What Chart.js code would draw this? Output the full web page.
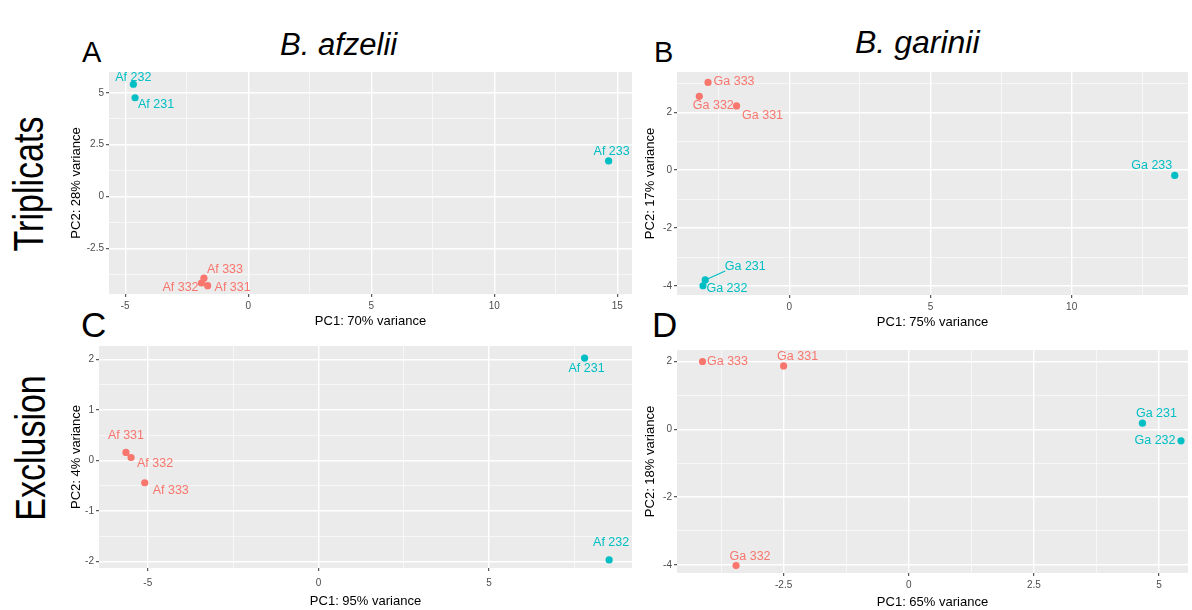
<!DOCTYPE html>
<html>
<head>
<meta charset="utf-8">
<script src="https://cdn.jsdelivr.net/npm/chart.js@4.4.1/dist/chart.umd.min.js"></script>
<style>
  body { margin: 0; background: #fff; width: 1192px; height: 610px; overflow: hidden; position: relative;
         font-family: 'Liberation Sans', Arial, sans-serif; }
  canvas { position: absolute; }
  .txt { position: absolute; color: #000; line-height: 1; white-space: nowrap; }
  .side { position: absolute; width: 240px; height: 42px; font-size: 42px; line-height: 1; text-align: center;
          transform: rotate(-90deg) scaleX(0.81); }
</style>
</head>
<body>
<div class="txt" style="left:82px;top:38px;font-size:29px">A</div>
<div class="txt" style="left:280px;top:29px;font-size:31px;font-style:italic">B. afzelii</div>
<div class="txt" style="left:654px;top:38px;font-size:29px">B</div>
<div class="txt" style="left:855px;top:26px;font-size:32px;font-style:italic">B. garinii</div>
<div class="txt" style="left:81px;top:307px;font-size:35px">C</div>
<div class="txt" style="left:652px;top:307px;font-size:35px">D</div>
<div class="side" style="left:-91px;top:163px">Triplicats</div>
<div class="side" style="left:-89px;top:427px">Exclusion</div>

<canvas id="chartA" width="600" height="275" style="left:40px;top:62px"></canvas>
<canvas id="chartB" width="572" height="275" style="left:620px;top:62px"></canvas>
<canvas id="chartC" width="600" height="275" style="left:40px;top:335px"></canvas>
<canvas id="chartD" width="572" height="275" style="left:620px;top:335px"></canvas>

<script>
// ---- data ----
// A: B. afzelii, triplicats
const afTripNames = ['Af 231', 'Af 232', 'Af 233', 'Af 331', 'Af 332', 'Af 333'];
const afTripPC1 = [-4.6, -4.67, 14.65, -1.65, -1.9, -1.8];
const afTripPC2 = [4.76, 5.41, 1.72, -4.29, -4.16, -3.93];

// B: B. garinii, triplicats
const gaTripNames = ['Ga 231', 'Ga 232', 'Ga 233', 'Ga 331', 'Ga 332', 'Ga 333'];
const gaTripPC1 = [-2.98, -3.06, 13.65, -1.87, -3.19, -2.88];
const gaTripPC2 = [-3.79, -3.99, -0.18, 2.22, 2.55, 3.03];

// C: B. afzelii, exclusion
const afExclNames = ['Af 231', 'Af 232', 'Af 331', 'Af 332', 'Af 333'];
const afExclPC1 = [7.8, 8.52, -5.64, -5.49, -5.09];
const afExclPC2 = [2.03, -1.97, 0.16, 0.06, -0.44];

// D: B. garinii, exclusion
const gaExclNames = ['Ga 231', 'Ga 232', 'Ga 331', 'Ga 332', 'Ga 333'];
const gaExclPC1 = [4.67, 5.44, -2.5, -3.45, -4.12];
const gaExclPC2 = [0.18, -0.34, 1.87, -4.02, 2.0];

// label placement (pixels from the point), same order as the names
const offsA = [[21, 7], [0, -7], [3, -9], [25, 2], [-21, 5], [21, -9]];
const offsB = [[40, -13, 20, -9], [24, 3], [-23, -10], [26, 10], [14, 9], [26, -1]];
const offsC = [[2, 10], [2, -17], [0, -17], [24, 6], [26, 8]];
const offsD = [[14, -10], [-26, 0], [14, -9], [14, -9], [25, 0]];

const teal = '#00BFC4';
const salmon = '#F8766D';
const fam = "'Liberation Sans', Arial, sans-serif";

// grey panel behind the plot like ggplot
const panelBg = {
  id: 'panelBg',
  beforeDraw(chart) {
    const a = chart.chartArea;
    const ctx = chart.ctx;
    ctx.save();
    ctx.fillStyle = '#EBEBEB';
    ctx.fillRect(a.left, a.top, a.right - a.left, a.bottom - a.top);
    ctx.restore();
  }
};

// sample names next to the points
const pointLabels = {
  id: 'pointLabels',
  afterDatasetsDraw(chart) {
    const ctx = chart.ctx;
    const ds = chart.data.datasets[0];
    const meta = chart.getDatasetMeta(0);
    ctx.save();
    ctx.font = '12.5px ' + fam;
    ctx.textAlign = 'center';
    ctx.textBaseline = 'middle';
    meta.data.forEach((pt, i) => {
      const off = ds.offsets[i];
      const col = ds.pointBackgroundColor[i];
      if (off.length > 2) {
        ctx.strokeStyle = col;
        ctx.lineWidth = 1.2;
        ctx.beginPath();
        ctx.moveTo(pt.x, pt.y);
        ctx.lineTo(pt.x + off[2], pt.y + off[3]);
        ctx.stroke();
      }
      ctx.fillStyle = col;
      ctx.fillText(ds.names[i], pt.x + off[0], pt.y + off[1]);
    });
    ctx.restore();
  }
};

function axis(min, max, major, title, size, tickPad) {
  const minor = major / 2;
  const isMajor = v => Math.abs(v / major - Math.round(v / major)) < 1e-6;
  return {
    type: 'linear',
    min: min,
    max: max,
    afterBuildTicks(sc) {
      const t = [];
      for (let i = Math.ceil(min / minor - 1e-9); i * minor <= max + 1e-9; i++) {
        t.push({ value: +(i * minor).toFixed(4) });
      }
      sc.ticks = t;
    },
    afterFit(sc) {
      if (sc.isHorizontal()) sc.height = size; else sc.width = size;
    },
    border: { display: false },
    grid: {
      color: '#ffffff',
      lineWidth: c => (c.tick && isMajor(c.tick.value)) ? 1.4 : 0.6,
      tickLength: 3,
      tickColor: c => (c.tick && isMajor(c.tick.value)) ? '#333333' : 'rgba(0,0,0,0)',
      tickWidth: 1
    },
    ticks: {
      autoSkip: false,
      maxRotation: 0,
      padding: tickPad,
      color: '#4D4D4D',
      font: { size: 10, family: fam },
      callback: v => isMajor(v) ? String(v) : ''
    },
    title: {
      display: true,
      text: title,
      color: '#000',
      padding: 0,
      font: { size: 13, family: fam }
    }
  };
}

function makePanel(id, names, pc1, pc2, offsets, xOpt, yOpt, pad) {
  const colors = names.map(n => n.slice(-3, -1) === '23' ? teal : salmon);
  new Chart(document.getElementById(id), {
    type: 'scatter',
    data: {
      datasets: [{
        data: pc1.map((x, i) => ({ x: x, y: pc2[i] })),
        names: names,
        offsets: offsets,
        pointBackgroundColor: colors,
        pointBorderColor: colors,
        pointRadius: 3.6,
        pointBorderWidth: 0
      }]
    },
    options: {
      responsive: false,
      animation: false,
      devicePixelRatio: 1,
      layout: { padding: pad },
      plugins: { legend: { display: false }, tooltip: { enabled: false } },
      scales: { x: xOpt, y: yOpt }
    },
    plugins: [panelBg, pointLabels]
  });
}

makePanel('chartA', afTripNames, afTripPC1, afTripPC2, offsA,
  axis(-5.66, 15.6, 5, 'PC1: 70% variance', 35, 3),
  axis(-4.69, 6.0, 2.5, 'PC2: 28% variance', 40, 2),
  { left: 29, right: 8, top: 10, bottom: 8 });

makePanel('chartB', gaTripNames, gaTripPC1, gaTripPC2, offsB,
  axis(-3.98, 14.12, 5, 'PC1: 75% variance', 35, 3),
  axis(-4.31, 3.39, 2, 'PC2: 17% variance', 34, 2),
  { left: 23, right: 0, top: 10, bottom: 7 });

makePanel('chartC', afExclNames, afExclPC1, afExclPC2, offsC,
  axis(-6.43, 9.19, 5, 'PC1: 95% variance', 41, 6),
  axis(-2.13, 2.27, 1, 'PC2: 4% variance', 30, 2),
  { left: 29, right: 8, top: 11, bottom: 1 });

makePanel('chartD', gaExclNames, gaExclPC1, gaExclPC2, offsD,
  axis(-4.63, 5.58, 2.5, 'PC1: 65% variance', 37, 3),
  axis(-4.24, 2.34, 2, 'PC2: 18% variance', 34, 2),
  { left: 23, right: 0, top: 15, bottom: 0 });
</script>
</body>
</html>
